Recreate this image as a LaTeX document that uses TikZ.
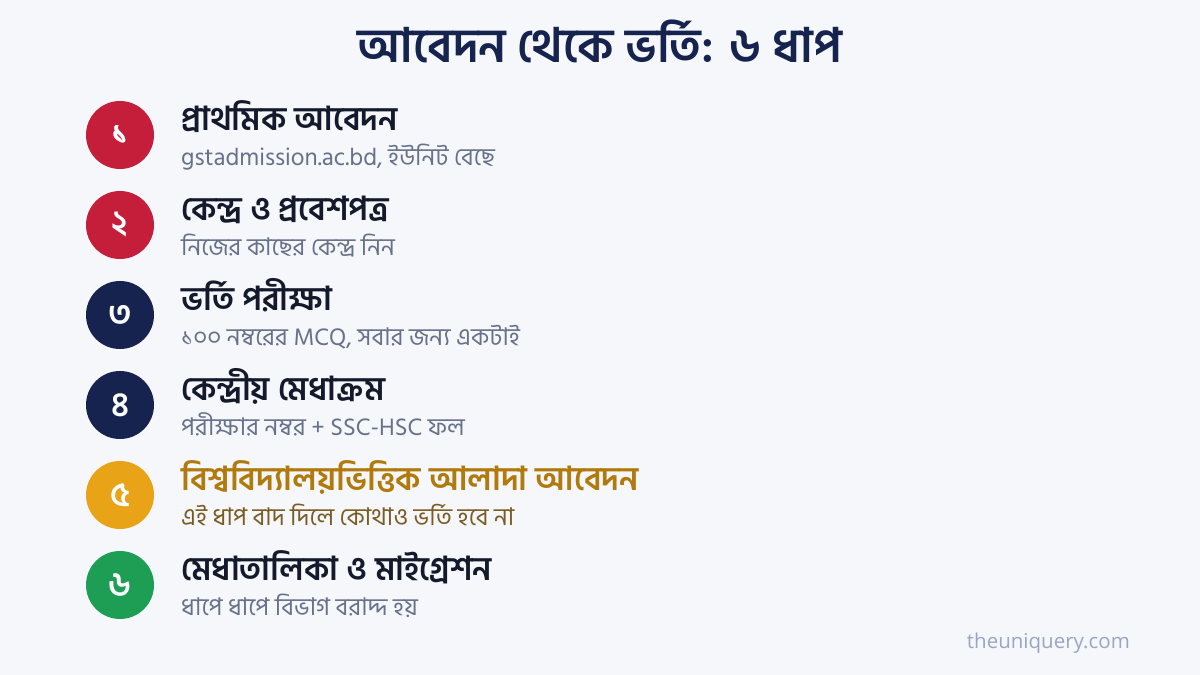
\documentclass[tikz,border=0pt]{standalone}
\usepackage{fontspec}
\newfontfamily\bn[Script=Bengali]{Hind Siliguri}
\newfontfamily\ft{Open Sans}
\definecolor{bg}{HTML}{F5F7FB}
\definecolor{navy}{HTML}{16234F}
\definecolor{redc}{HTML}{C41E3A}
\definecolor{amber}{HTML}{E8A317}
\definecolor{greenc}{HTML}{1E9E55}
\definecolor{headc}{HTML}{141A2B}
\definecolor{subc}{HTML}{67718A}
\definecolor{goldh}{HTML}{B07A0C}
\definecolor{golds}{HTML}{7A5C22}
\definecolor{footc}{HTML}{9AA6C2}
\tikzset{
  x=1pt,y=1pt,
  num/.style={circle,minimum size=68pt,inner sep=0pt,text=white,font=\bn\bfseries\fontsize{34}{36}\selectfont},
  head/.style={anchor=base west,inner sep=0pt,text=headc,font=\bn\bfseries\fontsize{33}{36}\selectfont},
  sub/.style={anchor=base west,inner sep=0pt,text=subc,font=\bn\fontsize{24.4}{28}\selectfont},
}
\begin{document}
\begin{tikzpicture}
\fill[bg] (0,0) rectangle (1200,675);
\useasboundingbox (0,0) rectangle (1200,675);
\node[anchor=base,inner sep=0pt,text=navy,font=\bn\bfseries\fontsize{47.5}{52}\selectfont] (title) at (600,612) {আবেদন থেকে ভর্তি: ৬ ধাপ};
% step 1
\node[num,fill=redc] (n1) at (120,540) {১};
\node[head] (h1) at (181,544) {প্রাথমিক আবেদন};
\node[sub] (s1) at (181,509) {gstadmission.ac.bd, ইউনিট বেছে};
% step 2
\node[num,fill=redc] (n2) at (120,450) {২};
\node[head] (h2) at (181,454) {কেন্দ্র ও প্রবেশপত্র};
\node[sub] (s2) at (181,419) {নিজের কাছের কেন্দ্র নিন};
% step 3
\node[num,fill=navy] (n3) at (120,360) {৩};
\node[head] (h3) at (181,364) {ভর্তি পরীক্ষা};
\node[sub] (s3) at (181,329) {১০০ নম্বরের MCQ, সবার জন্য একটাই};
% step 4
\node[num,fill=navy] (n4) at (120,270) {৪};
\node[head] (h4) at (181,274) {কেন্দ্রীয় মেধাক্রম};
\node[sub] (s4) at (181,239) {পরীক্ষার নম্বর + SSC-HSC ফল};
% step 5
\node[num,fill=amber] (n5) at (120,180) {৫};
\node[head,text=goldh] (h5) at (181,184) {বিশ্ববিদ্যালয়ভিত্তিক আলাদা আবেদন};
\node[sub,text=golds] (s5) at (181,149) {এই ধাপ বাদ দিলে কোথাও ভর্তি হবে না};
% step 6
\node[num,fill=greenc] (n6) at (120,90) {৬};
\node[head] (h6) at (181,94) {মেধাতালিকা ও মাইগ্রেশন};
\node[sub] (s6) at (181,59) {ধাপে ধাপে বিভাগ বরাদ্দ হয়};
\node[anchor=base east,inner sep=0pt,text=footc,font=\ft\fontsize{20.5}{24}\selectfont] (foot) at (1130,26) {theuniquery.com};
\end{tikzpicture}
\end{document}
